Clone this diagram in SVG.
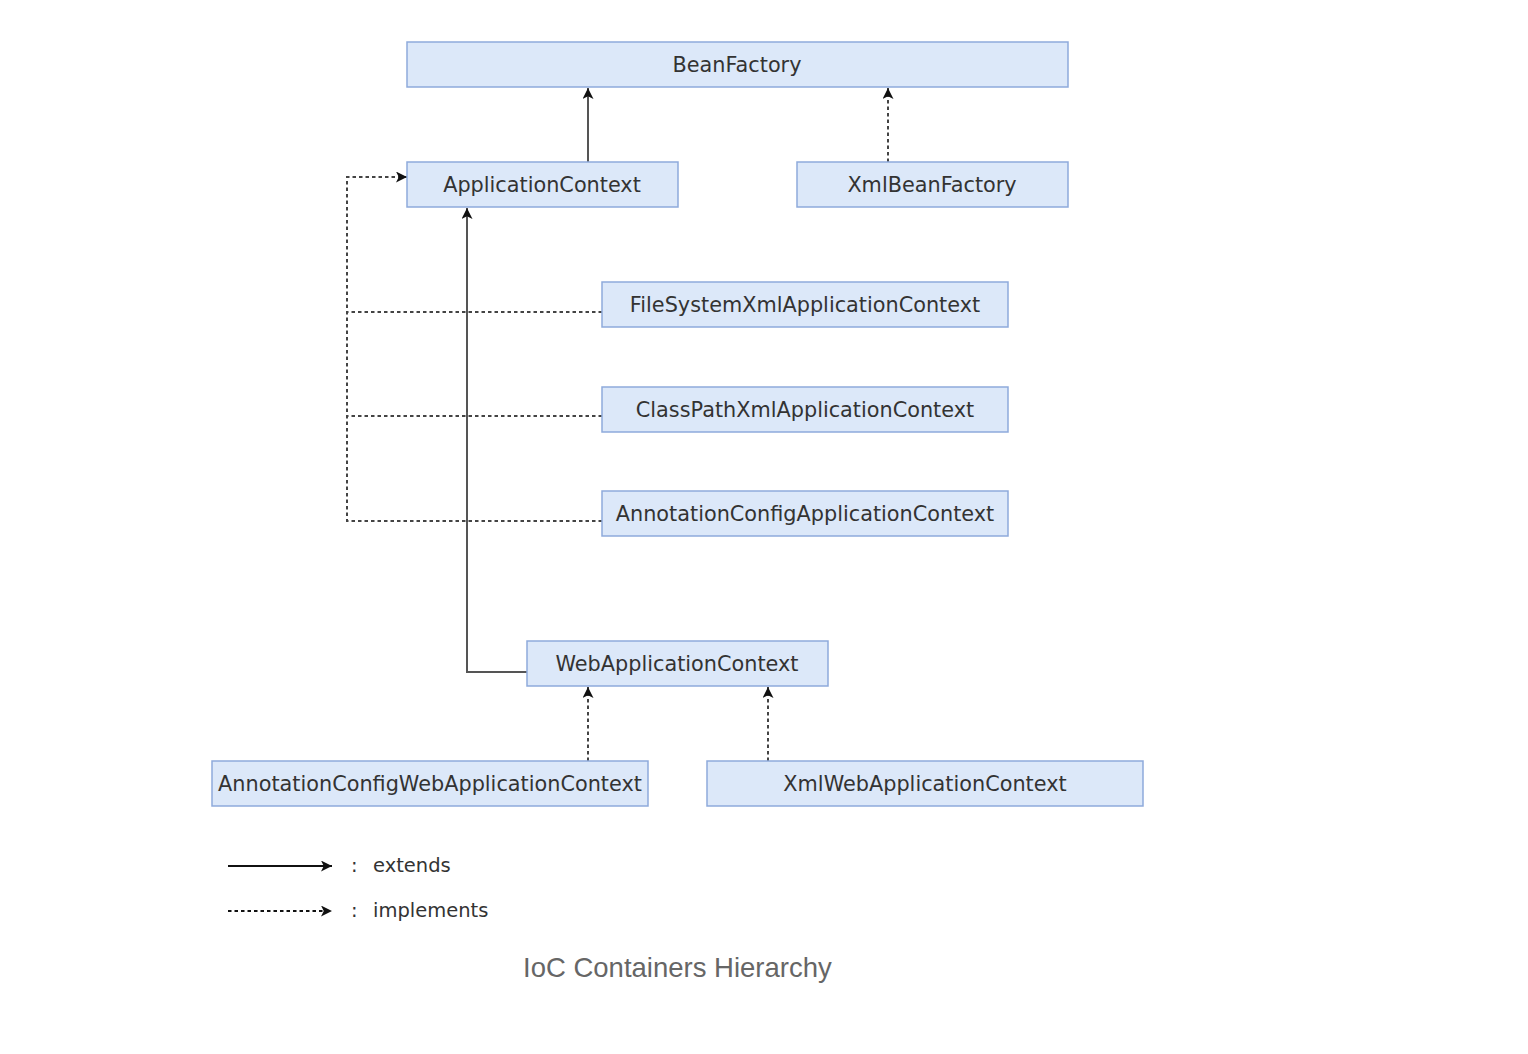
<svg xmlns="http://www.w3.org/2000/svg" width="1528" height="1054" viewBox="0 0 1528 1054">
<style>
.node rect{fill:#dce8f9;stroke:#8eaadb;stroke-width:1.5}
.node text{font-family:"DejaVu Sans",Verdana,sans-serif;font-size:20.8px;fill:#333;text-anchor:middle;dominant-baseline:central}
.ext{fill:none;stroke:#555;stroke-width:2}
.imp{fill:none;stroke:#444;stroke-width:2;stroke-dasharray:3.5 3}
.leg{font-family:"DejaVu Sans",Verdana,sans-serif;font-size:19.5px;fill:#333}
.cap{font-family:"Liberation Sans",Arial,sans-serif;font-size:27.5px;fill:#666}
</style>
<defs>
<marker id="ah" viewBox="0 0 10 10" refX="10" refY="5" markerWidth="11" markerHeight="11" markerUnits="userSpaceOnUse" orient="auto">
<path d="M0,0 L10,5 L0,10 L2.5,5 Z" fill="#111"/>
</marker>
</defs>
<rect width="1528" height="1054" fill="#fff"/>
<g id="connectors">
<path class="ext" d="M588,162 V88" marker-end="url(#ah)"/>
<path class="imp" d="M888,162 V88" marker-end="url(#ah)"/>
<path class="imp" d="M602,521 H347 V177 H407" marker-end="url(#ah)"/>
<path class="imp" d="M602,312 H347"/>
<path class="imp" d="M602,416 H347"/>
<path class="ext" d="M527,672 H467 V208" marker-end="url(#ah)"/>
<path class="imp" d="M588,761 V687" marker-end="url(#ah)"/>
<path class="imp" d="M768,761 V687" marker-end="url(#ah)"/>
</g>
<g id="BeanFactory" class="node"><rect x="407" y="42" width="661" height="45"/><text x="737" y="65">BeanFactory</text></g>
<g id="ApplicationContext" class="node"><rect x="407" y="162" width="271" height="45"/><text x="542" y="185">ApplicationContext</text></g>
<g id="XmlBeanFactory" class="node"><rect x="797" y="162" width="271" height="45"/><text x="932" y="185">XmlBeanFactory</text></g>
<g id="FileSystemXmlApplicationContext" class="node"><rect x="602" y="282" width="406" height="45"/><text x="805" y="305">FileSystemXmlApplicationContext</text></g>
<g id="ClassPathXmlApplicationContext" class="node"><rect x="602" y="387" width="406" height="45"/><text x="805" y="410">ClassPathXmlApplicationContext</text></g>
<g id="AnnotationConfigApplicationContext" class="node"><rect x="602" y="491" width="406" height="45"/><text x="805" y="514">AnnotationConfigApplicationContext</text></g>
<g id="WebApplicationContext" class="node"><rect x="527" y="641" width="301" height="45"/><text x="677" y="664">WebApplicationContext</text></g>
<g id="AnnotationConfigWebApplicationContext" class="node"><rect x="212" y="761" width="436" height="45"/><text x="430" y="784">AnnotationConfigWebApplicationContext</text></g>
<g id="XmlWebApplicationContext" class="node"><rect x="707" y="761" width="436" height="45"/><text x="925" y="784">XmlWebApplicationContext</text></g>
<g id="legend">
<path class="ext" d="M228,866 H332" style="stroke:#111" marker-end="url(#ah)"/>
<path class="imp" d="M228,911 H332" style="stroke:#111" marker-end="url(#ah)"/>
<text class="leg" x="351" y="872">:</text>
<text class="leg" x="373" y="872">extends</text>
<text class="leg" x="351" y="917">:</text>
<text class="leg" x="373" y="917">implements</text>
</g>
<text class="cap" x="523" y="977">IoC Containers Hierarchy</text>
</svg>
